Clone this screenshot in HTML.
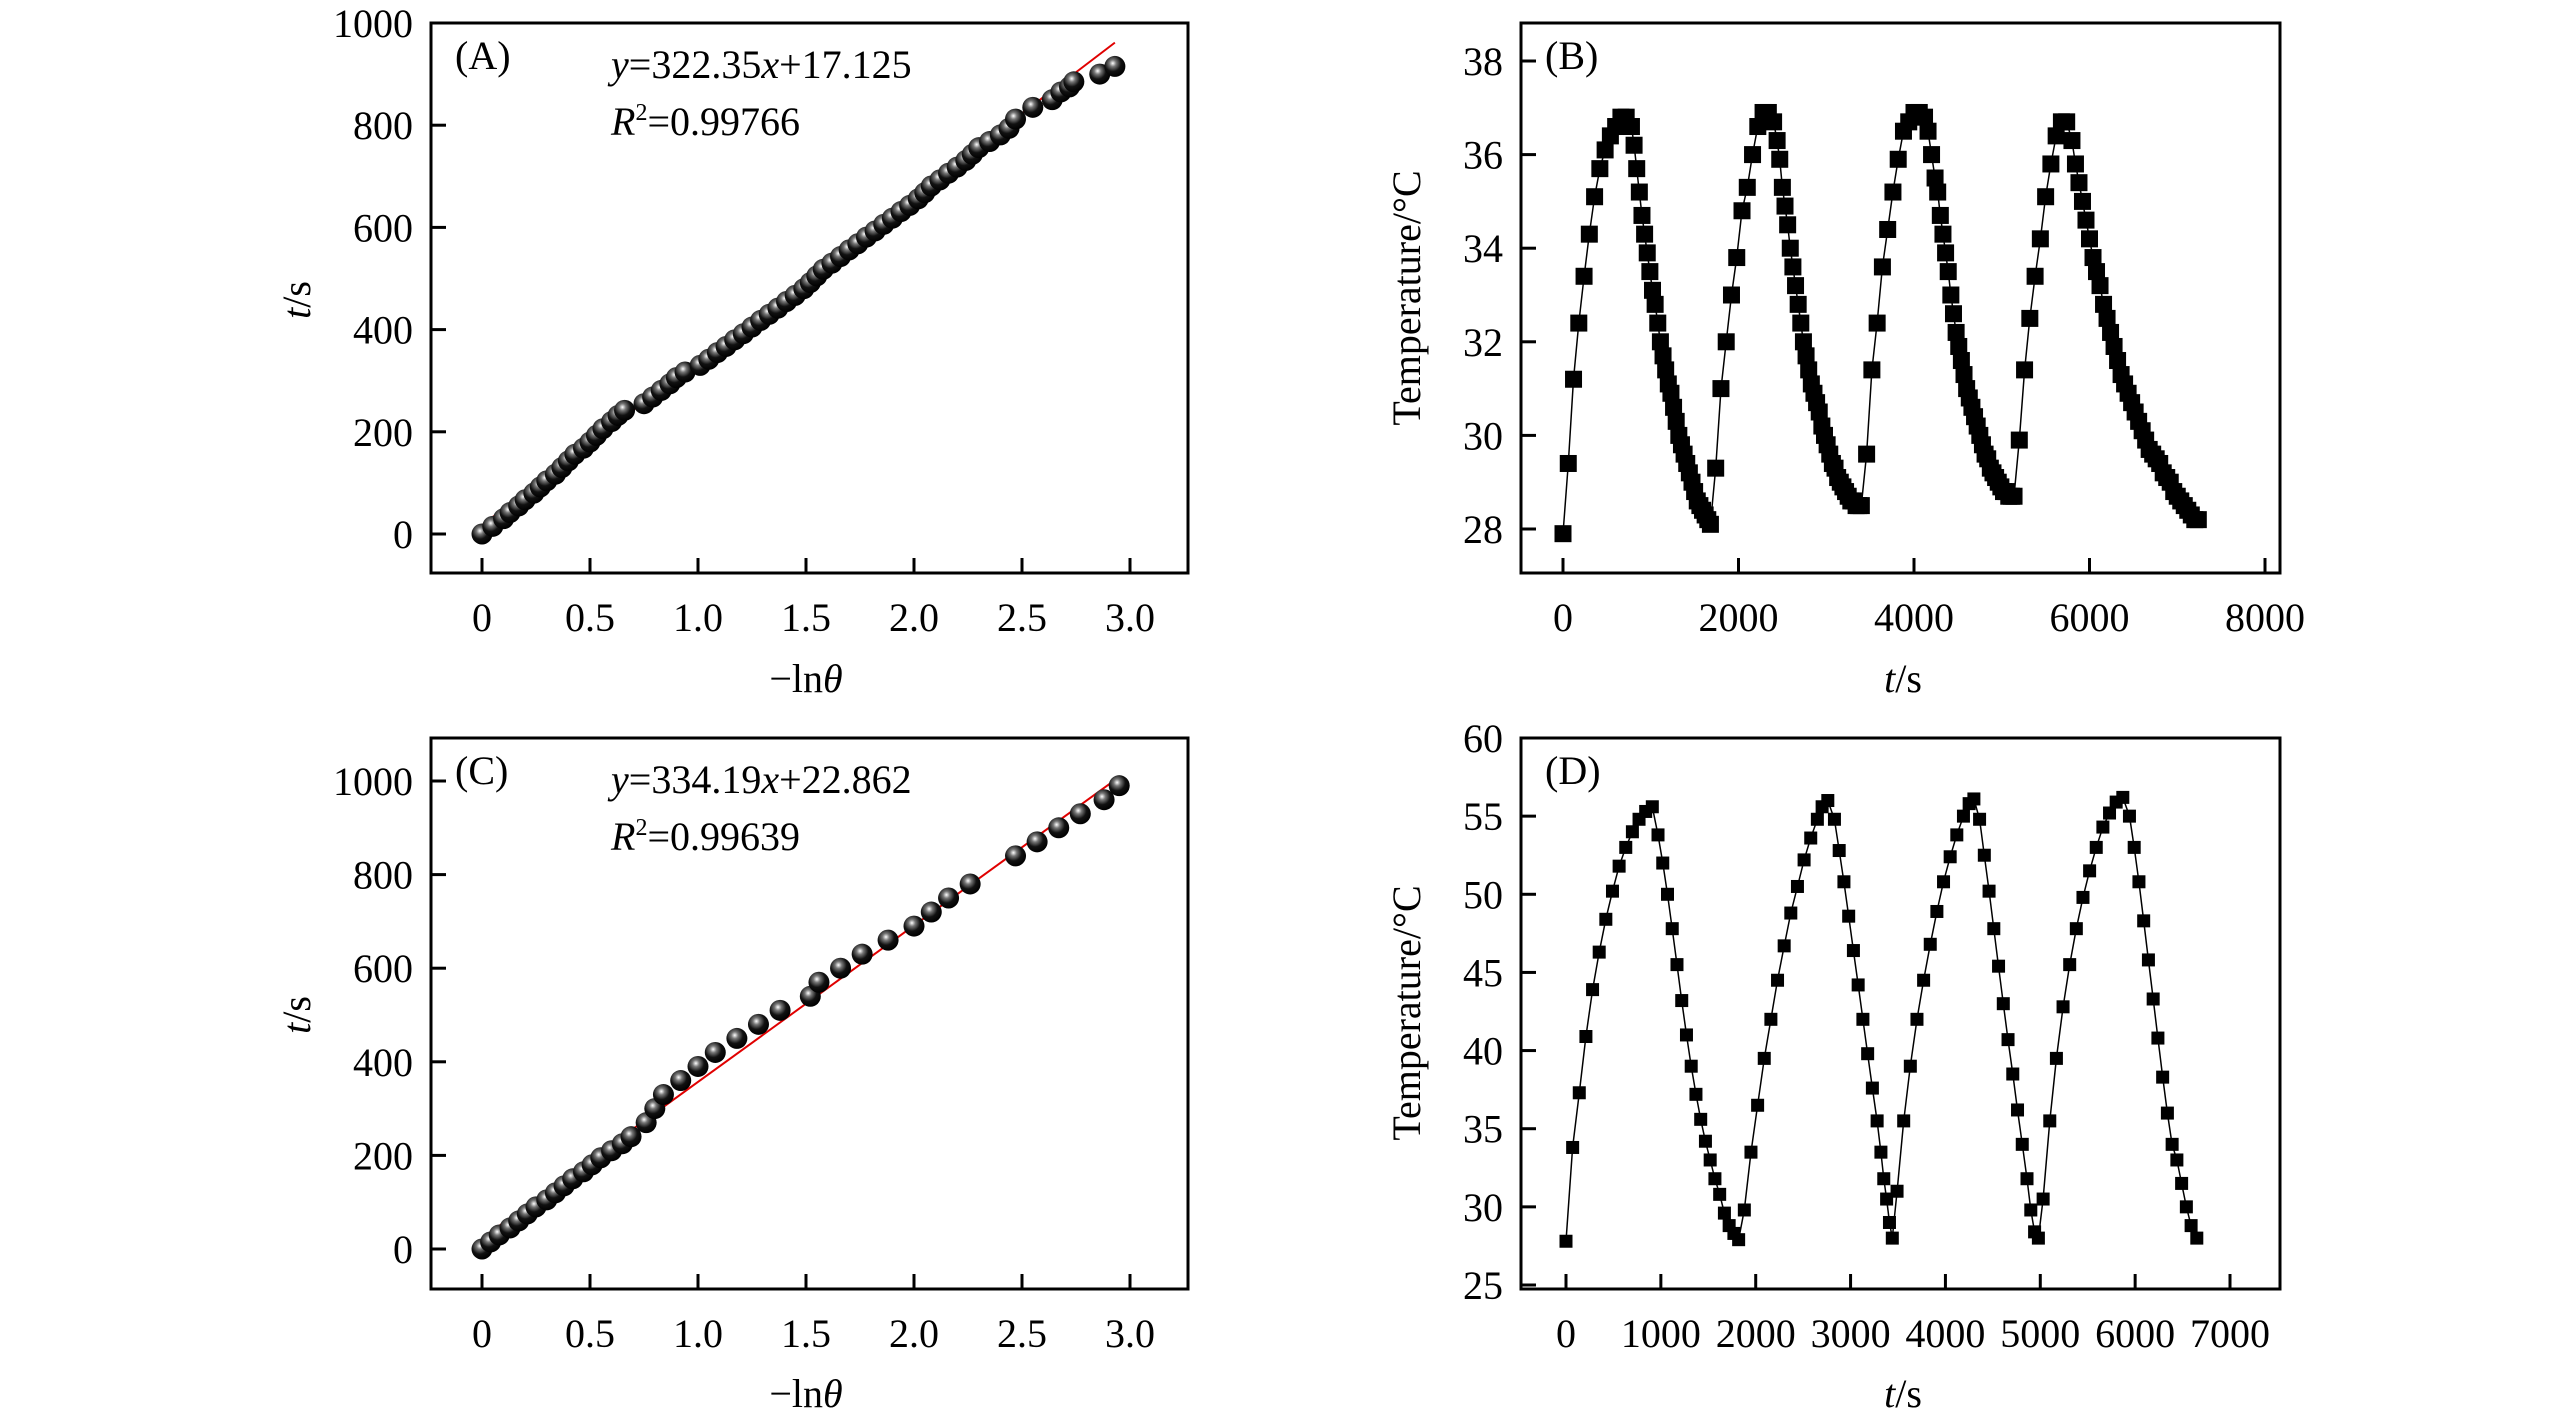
<!DOCTYPE html>
<html><head><meta charset="utf-8"><style>
html,body{margin:0;padding:0;background:#fff}
svg{display:block}
text{font-family:"Liberation Serif","Times New Roman",serif;fill:#000}
</style></head><body>
<svg id="fig" width="2567" height="1417" viewBox="0 0 2567 1417" xmlns="http://www.w3.org/2000/svg">
<defs>
<radialGradient id="ball" cx="0.4" cy="0.35" r="0.65">
<stop offset="0" stop-color="#ffffff"/><stop offset="0.25" stop-color="#777"/><stop offset="0.6" stop-color="#111"/><stop offset="1" stop-color="#000"/>
</radialGradient>
</defs>
</svg>
<script>
// Panel A data
const aX=[0,0.05,0.1,0.13,0.17,0.2,0.24,0.27,0.3,0.34,0.37,0.4,0.43,0.47,0.5,0.53,0.56,0.6,0.63,0.66,0.75,0.79,0.83,0.87,0.9,0.94,1.01,1.05,1.09,1.13,1.17,1.21,1.25,1.29,1.33,1.37,1.41,1.45,1.49,1.52,1.55,1.58,1.62,1.66,1.7,1.74,1.78,1.82,1.86,1.9,1.94,1.98,2.02,2.05,2.08,2.12,2.16,2.2,2.24,2.27,2.3,2.35,2.4,2.44,2.47,2.55,2.64,2.68,2.72,2.74,2.86,2.93];
const aY=[0,15,30,42,55,67,80,92,104,117,130,143,156,168,180,193,206,220,232,242,255,268,281,294,306,317,330,342,355,367,380,392,405,418,430,442,455,467,480,492,505,518,530,543,556,568,581,593,606,618,631,643,656,668,681,693,706,718,731,743,756,768,781,794,812,835,850,865,875,885,900,915];
// Panel C data
const cX=[0,0.04,0.08,0.13,0.17,0.21,0.25,0.3,0.34,0.38,0.42,0.47,0.51,0.55,0.6,0.65,0.69,0.76,0.8,0.84,0.92,1.0,1.08,1.18,1.28,1.38,1.52,1.56,1.66,1.76,1.88,2.0,2.08,2.16,2.26,2.47,2.57,2.67,2.77,2.88,2.95];
const cY=[0,15,30,45,60,75,90,105,120,135,150,165,180,195,210,225,240,270,300,330,360,390,420,450,480,510,540,570,600,630,660,690,720,750,780,840,870,900,930,960,990];
const fitA=[322.35,17.125];
const fitC=[334.19,22.862];
// Panel B data
const bT=[0,60,120,180,240,300,360,420,480,540,600,660,720,780,810,840,870,900,930,960,990,1020,1050,1080,1110,1140,1170,1200,1230,1260,1290,1320,1350,1380,1410,1440,1470,1500,1530,1560,1590,1620,1650,1680,
1740,1800,1860,1920,1980,2040,2100,2160,2220,2280,2340,2400,2440,2470,2500,2530,2560,2590,2620,2650,2680,2710,2740,2770,2800,2830,2860,2890,2920,2950,2980,3010,3040,3070,3100,3130,3160,3190,3220,3250,3280,3310,3340,3370,3400,
3460,3520,3580,3640,3700,3760,3820,3880,3940,4000,4060,4120,4160,4200,4240,4270,4300,4330,4360,4390,4420,4450,4480,4510,4540,4570,4600,4630,4660,4690,4720,4750,4780,4810,4840,4870,4900,4930,4960,4990,5020,5050,5080,5110,5140,
5200,5260,5320,5380,5440,5500,5560,5620,5680,5740,5800,5840,5880,5920,5960,6000,6040,6080,6120,6160,6200,6240,6280,6320,6360,6400,6440,6480,6520,6560,6600,6640,6680,6720,6760,6800,6840,6880,6920,6960,7000,7040,7080,7120,7160,7200,7240];
const bV=[27.9,29.4,31.2,32.4,33.4,34.3,35.1,35.7,36.1,36.4,36.6,36.8,36.8,36.6,36.2,35.7,35.2,34.7,34.3,33.9,33.5,33.1,32.8,32.4,32.0,31.7,31.4,31.1,30.9,30.6,30.3,30.0,29.8,29.6,29.4,29.2,29.0,28.8,28.6,28.5,28.4,28.3,28.2,28.1,
29.3,31.0,32.0,33.0,33.8,34.8,35.3,36.0,36.6,36.9,36.9,36.7,36.3,35.9,35.3,34.9,34.5,34.0,33.6,33.2,32.8,32.4,32.0,31.7,31.4,31.1,30.9,30.7,30.5,30.2,30.0,29.8,29.6,29.4,29.3,29.1,29.0,28.9,28.8,28.7,28.6,28.6,28.5,28.5,28.5,
29.6,31.4,32.4,33.6,34.4,35.2,35.9,36.5,36.7,36.9,36.9,36.8,36.5,36.0,35.5,35.2,34.7,34.3,33.9,33.5,33.0,32.6,32.2,31.9,31.6,31.3,31.0,30.8,30.6,30.4,30.2,30.0,29.8,29.6,29.5,29.3,29.2,29.1,29.0,28.9,28.8,28.8,28.7,28.7,28.7,
29.9,31.4,32.5,33.4,34.2,35.1,35.8,36.4,36.7,36.7,36.3,35.8,35.4,35.0,34.6,34.2,33.8,33.5,33.2,32.8,32.5,32.2,31.9,31.6,31.3,31.1,30.9,30.7,30.5,30.3,30.1,29.9,29.7,29.6,29.5,29.4,29.2,29.1,29.0,28.8,28.7,28.6,28.5,28.4,28.3,28.2,28.2];
// Panel D data
const dT=[0,70,140,210,280,350,420,490,560,630,700,770,840,910,970,1020,1070,1120,1170,1220,1270,1320,1370,1420,1470,1520,1570,1620,1670,1720,1770,1820,
1880,1950,2020,2090,2160,2230,2300,2370,2440,2510,2580,2650,2700,2760,2830,2880,2930,2980,3030,3080,3130,3180,3230,3280,3320,3350,3380,3410,3440,
3490,3560,3630,3700,3770,3840,3910,3980,4050,4120,4190,4250,4300,4360,4410,4460,4510,4560,4610,4660,4710,4760,4810,4860,4900,4940,4980,
5030,5100,5170,5240,5310,5380,5450,5520,5590,5660,5730,5800,5870,5940,5990,6040,6090,6140,6190,6240,6290,6340,6390,6440,6490,6540,6590,6650];
const dV=[27.8,33.8,37.3,40.9,43.9,46.3,48.4,50.2,51.8,53.0,54.0,54.8,55.3,55.6,53.8,52.0,50.0,47.8,45.5,43.2,41.0,39.0,37.2,35.6,34.2,33.0,31.8,30.8,29.6,28.8,28.3,27.9,
29.8,33.5,36.5,39.5,42.0,44.5,46.7,48.8,50.5,52.2,53.6,54.8,55.6,56.0,54.8,52.8,50.8,48.6,46.4,44.2,42.0,39.8,37.6,35.5,33.5,31.8,30.5,29.0,28.0,
31.0,35.5,39.0,42.0,44.5,46.8,48.9,50.8,52.4,53.8,55.0,55.8,56.1,54.8,52.5,50.2,47.8,45.4,43.0,40.7,38.5,36.2,34.0,31.8,29.8,28.4,28.0,
30.5,35.5,39.5,42.8,45.5,47.8,49.8,51.5,53.0,54.3,55.2,55.9,56.2,55.0,53.0,50.8,48.3,45.8,43.3,40.8,38.3,36.0,34.0,33.0,31.5,30.0,28.8,28.0];
const xTicksA=["0","0.5","1.0","1.5","2.0","2.5","3.0"];
const yTicksA=["0","200","400","600","800","1000"];
const xTicksB=["0","2000","4000","6000","8000"];
const yTicksB=["28","30","32","34","36","38"];
const xTicksD=["0","1000","2000","3000","4000","5000","6000","7000"];
const yTicksD=["25","30","35","40","45","50","55","60"];

const NS="http://www.w3.org/2000/svg";
const svg=document.getElementById('fig');
function mk(tag,attrs,parent){const e=document.createElementNS(NS,tag);for(const k in attrs)e.setAttribute(k,attrs[k]);(parent||svg).appendChild(e);return e;}
function lin(d0,d1,p0,p1){return v=>p0+(v-d0)*(p1-p0)/(d1-d0);}

function panel(o){
  const g=mk('g',{});
  
  
  const fr=mk('rect',{x:o.L,y:o.T,width:o.R-o.L,height:o.B-o.T,fill:'none',stroke:'#000','stroke-width':3},g);
  
  
  const xs=lin(o.xd[0],o.xd[1],o.xp[0],o.xp[1]);
  const ys=lin(o.yd[0],o.yd[1],o.yp[0],o.yp[1]);
  o.xt.forEach(t=>{const v=parseFloat(t),x=xs(v);
    mk('line',{x1:x,x2:x,y1:o.B,y2:o.B-15,stroke:'#000','stroke-width':3},g);
    const tx=mk('text',{x:x,y:o.B+58,'text-anchor':'middle','font-size':40},g);tx.textContent=t;
    
    });
  o.yt.forEach(t=>{const v=parseFloat(t),y=ys(v);
    mk('line',{x1:o.L,x2:o.L+15,y1:y,y2:y,stroke:'#000','stroke-width':3},g);
    const tx=mk('text',{x:o.L-18,y:y+14,'text-anchor':'end','font-size':40},g);tx.textContent=t;
    
    });
  const lab=mk('text',{x:o.L+24,y:o.T+46,'font-size':40},g);lab.textContent=o.label;
  
  
  return {g,xs,ys};
}
function xtitleLn(g,x,y){const t=mk('text',{x:x,y:y,'text-anchor':'middle','font-size':40},g);
  t.innerHTML='−ln<tspan font-style="italic">θ</tspan>';
  
  }
function titleTs(g,x,y,rot){const t=mk('text',{x:x,y:y,'text-anchor':'middle','font-size':40,transform:rot?`rotate(-90 ${x} ${y})`:''},g);
  t.innerHTML='<tspan font-style="italic">t</tspan>/s';
  
  }
function ytitleTemp(g,x,y){const t=mk('text',{x:x,y:y,'text-anchor':'middle','font-size':40,transform:`rotate(-90 ${x} ${y})`},g);
  t.textContent='Temperature/°C';
  
  }

function fitPanel(o,X,Y,fit,eq,r2){
  const p=panel(o);
  const x1=X[X.length-1];
  const fl=mk('line',{x1:p.xs(0),y1:p.ys(fit[1]),x2:p.xs(x1),y2:p.ys(fit[0]*x1+fit[1]),stroke:'#e00000','stroke-width':2},p.g);
  
  
  X.forEach((v,i)=>{const c=mk('circle',{cx:p.xs(v),cy:p.ys(Y[i]),r:10.5,fill:'url(#ball)'},p.g);
    
    });
  const e=mk('text',{x:o.L+180,y:o.T+55,'font-size':40},p.g);
  e.innerHTML='<tspan font-style="italic">y</tspan>='+eq.split('x')[0]+'<tspan font-style="italic">x</tspan>'+eq.split('x')[1];
  
  
  const r=mk('text',{x:o.L+180,y:o.T+112,'font-size':40},p.g);
  r.innerHTML='<tspan font-style="italic">R</tspan><tspan font-size="24" dy="-15">2</tspan><tspan dy="15">='+r2+'</tspan>';
  
  
  return p;
}
function tsPanel(o,T,V,ms){
  const p=panel(o);
  const pts=T.map((t,i)=>p.xs(t).toFixed(1)+','+p.ys(V[i]).toFixed(1)).join(' ');
  const pl=mk('polyline',{points:pts,fill:'none',stroke:'#000','stroke-width':1.5},p.g);
  
  
  T.forEach((t,i)=>{const s=mk('rect',{x:p.xs(t)-ms/2,y:p.ys(V[i])-ms/2,width:ms,height:ms,fill:'#000'},p.g);
    
    });
  return p;
}

const pA=fitPanel({name:'panel-a',L:431,R:1188,T:23,B:573,xd:[0,3],xp:[482,1130],yd:[0,1000],yp:[534,23],xt:xTicksA,yt:yTicksA,label:'(A)'},aX,aY,fitA,'322.35x+17.125','0.99766');
xtitleLn(pA.g,806,692);titleTs(pA.g,310,300,true);
const pC=fitPanel({name:'panel-c',L:431,R:1188,T:738,B:1289,xd:[0,3],xp:[482,1130],yd:[0,1000],yp:[1249,781],xt:xTicksA,yt:yTicksA,label:'(C)'},cX,cY,fitC,'334.19x+22.862','0.99639');
xtitleLn(pC.g,806,1407);titleTs(pC.g,310,1015,true);
const pB=tsPanel({name:'panel-b',L:1521,R:2280,T:23,B:573,xd:[0,8000],xp:[1563,2265],yd:[28,38],yp:[529,61],xt:xTicksB,yt:yTicksB,label:'(B)'},bT,bV,17);
titleTs(pB.g,1903,692,false);ytitleTemp(pB.g,1420,298);
const pD=tsPanel({name:'panel-d',L:1521,R:2280,T:738,B:1289,xd:[0,7000],xp:[1566,2230],yd:[25,60],yp:[1285,738],xt:xTicksD,yt:yTicksD,label:'(D)'},dT,dV,13);
titleTs(pD.g,1903,1407,false);ytitleTemp(pD.g,1420,1013);
</script>
</body></html>
